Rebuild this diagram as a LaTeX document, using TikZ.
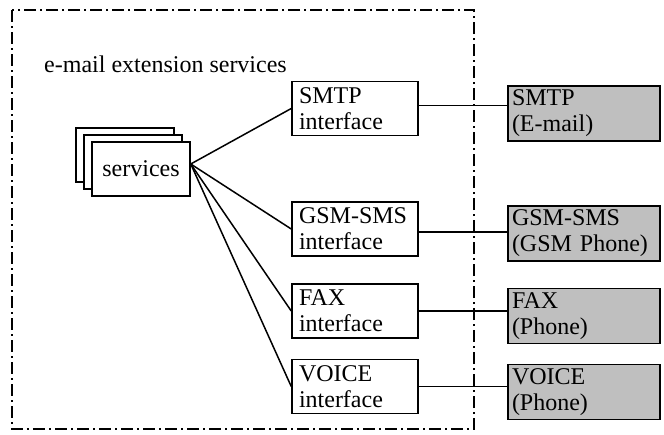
\documentclass[tikz,border=0pt]{standalone}
\usepackage{fontspec}
\setmainfont{Liberation Serif}
\begin{document}
\begin{tikzpicture}[
    x=1pt, y=-1pt,
    every node/.style={font=\fontsize{24}{26}\selectfont},
    srvbox/.style={rectangle, draw, line width=1.5pt, fill=white, minimum width=98pt, minimum height=54pt, inner sep=0pt},
    ifcbox/.style={rectangle, draw, line width=1.5pt, text width=112pt, inner xsep=7pt, inner ysep=0pt, minimum height=54pt, align=left},
    devbox/.style={rectangle, draw, line width=1.5pt, fill=black!25, text width=144pt, inner xsep=4pt, inner ysep=0pt, minimum height=55pt, align=left},
    link/.style={line width=1.5pt},
    frame/.style={line width=1.5pt, dash pattern=on 12pt off 4pt on 2pt off 4pt}
]
\useasboundingbox (0,0) rectangle (664,434);

% system boundary
\draw[frame] (12,10) rectangle (474,429);
\node[anchor=base west, inner sep=0pt] (title) at (44,72) {e-mail extension services};

% stacked services
\node[srvbox] (srvback) at (125,155) {};
\node[srvbox] (srvmid) at (133,162) {};
\node[srvbox] (srv) at (141,169) {services};

% interfaces
\node[ifcbox] (smtp) at (355,108.5) {SMTP\\interface};
\node[ifcbox] (gsm) at (355,229) {GSM-SMS\\interface};
\node[ifcbox] (fax) at (355,311) {FAX\\interface};
\node[ifcbox] (voice) at (355,386.5) {VOICE\\interface};

% external devices
\node[devbox] (email) at (584,113.5) {SMTP\\(E-mail)};
\node[devbox] (phone) at (584,233.5) {GSM-SMS\\(GSM Phone)};
\node[devbox] (faxdev) at (584,316) {FAX\\(Phone)};
\node[devbox] (voicedev) at (584,392) {VOICE\\(Phone)};

\foreach \ifc in {smtp, gsm, fax, voice}
    \draw[link] ([yshift=5pt]srv.east) -- (\ifc.west);

\draw[link] ([yshift=3pt]smtp.east) -- ([yshift=3pt]smtp.east -| email.west);
\draw[link] ([yshift=-3pt]gsm.east) -- ([yshift=-3pt]gsm.east -| phone.west);
\draw[link] (fax.east) -- (fax.east -| faxdev.west);
\draw[link] (voice.east) -- (voice.east -| voicedev.west);
\end{tikzpicture}
\end{document}
